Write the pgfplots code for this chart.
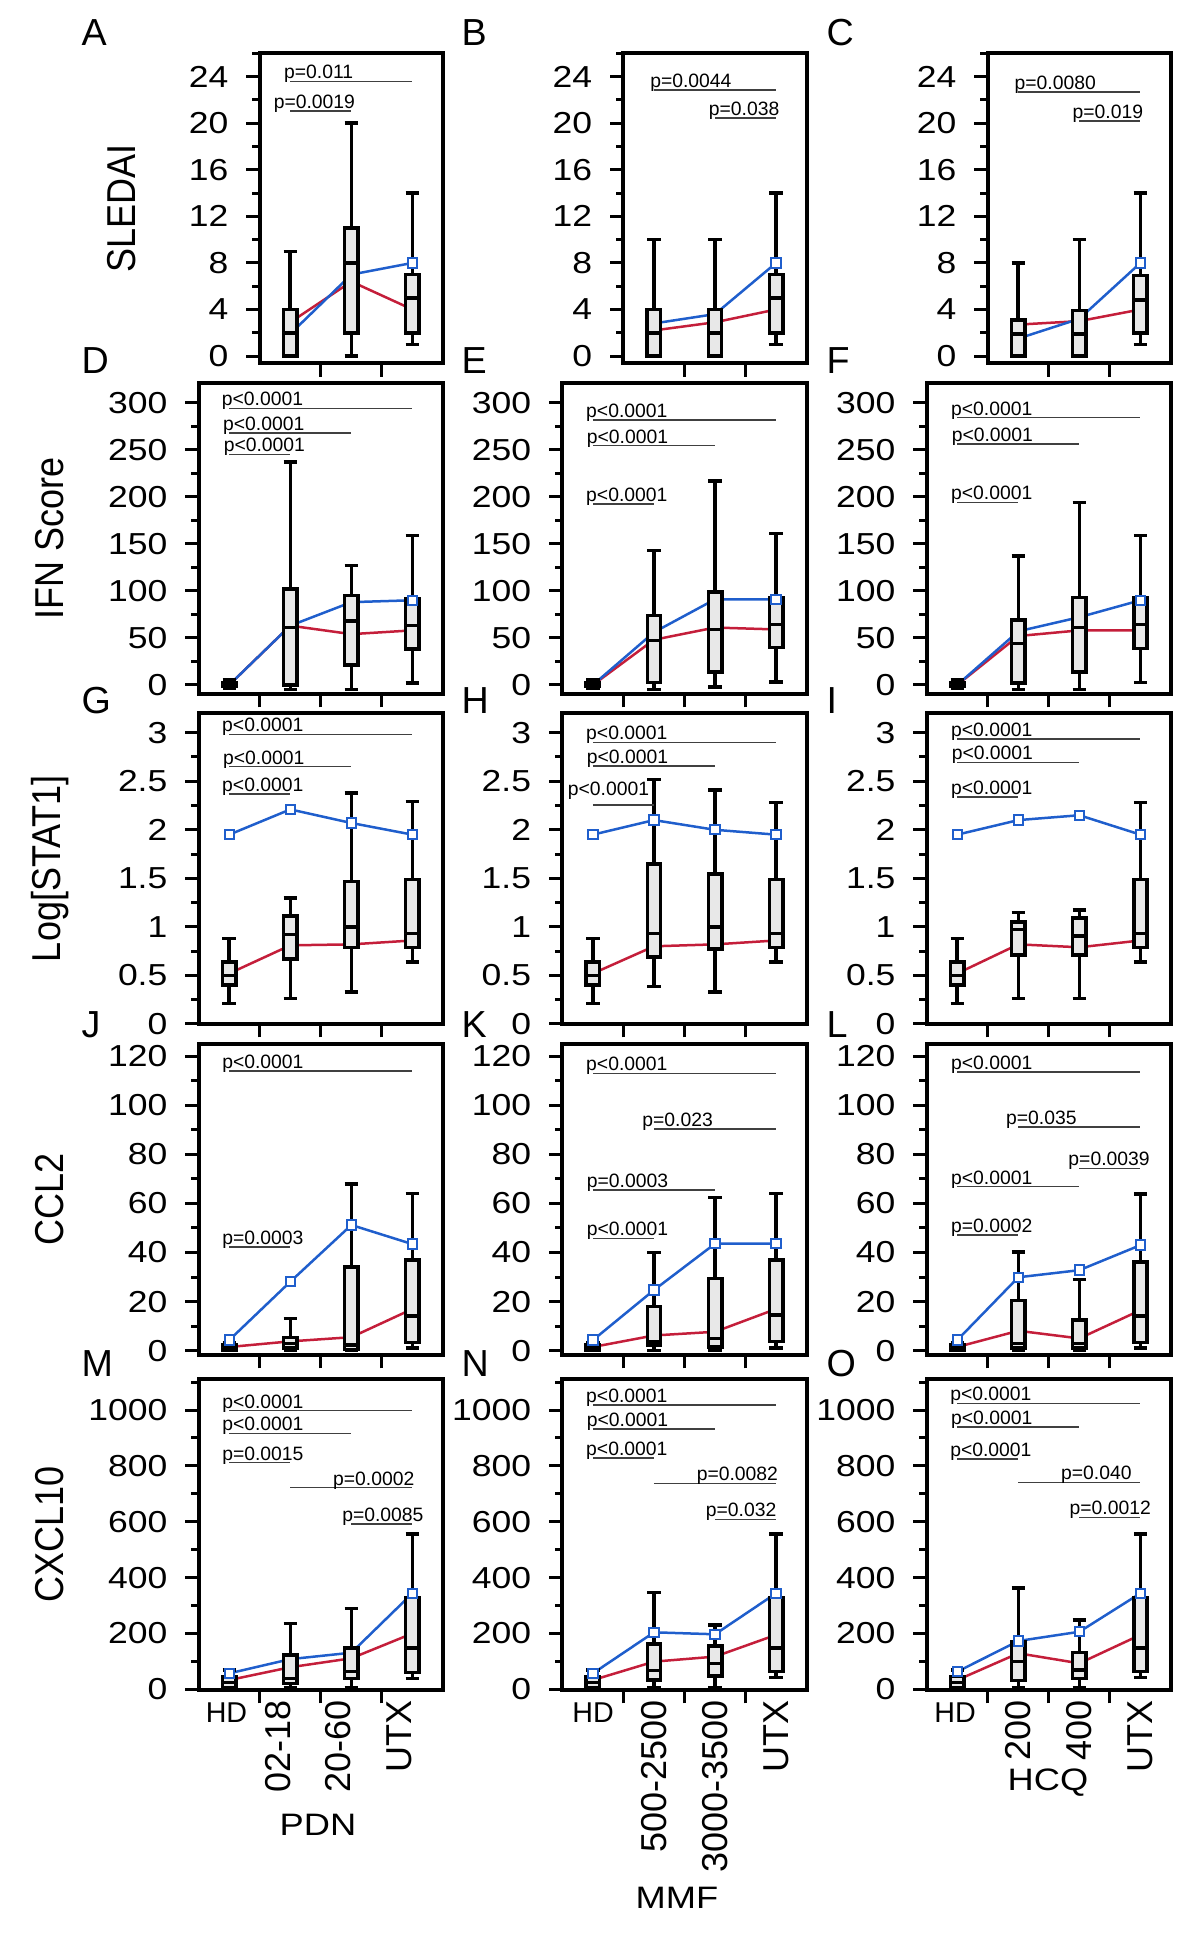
\documentclass[border=0pt]{standalone}
\usepackage{fontspec}
\setmainfont{Liberation Sans}
\usepackage{graphicx}
\usepackage{pgfplots}
\pgfplotsset{compat=1.18}
\usepgfplotslibrary{statistics}

\definecolor{cblue}{RGB}{31,94,204}
\definecolor{cred}{RGB}{196,30,58}
\definecolor{boxgray}{RGB}{232,232,232}

\newcommand{\tickf}{\fontsize{9.1}{10}\selectfont}
\newcommand{\labf}{\fontsize{10.8}{12}\selectfont}
\newcommand{\pf}{\fontsize{5.8}{7}\selectfont}
\newcommand{\letf}{\fontsize{11.3}{13}\selectfont}
\newcommand{\hdf}{\fontsize{8.6}{10}\selectfont}
\newcommand{\grpf}{\fontsize{9.3}{11}\selectfont}
\newcommand{\wide}[1]{\scalebox{1.17}[1]{#1}}

% one box: position, lower whisker, Q1, median, Q3, upper whisker
\newcommand{\bx}[6]{\addplot[boxst, boxplot prepared={draw position=#1,
  lower whisker=#2, lower quartile=#3, median=#4,
  upper quartile=#5, upper whisker=#6}] coordinates {};}
% p-value bar: from, to, height, text x, text
\newcommand{\pv}[5]{\draw[pline] (axis cs:#1,#3) -- (axis cs:#2,#3);
  \node[ptext] at (axis cs:#4,#3) {#5};}

\tikzset{
  pline/.style={line width=0.45pt, black!75},
  ptext/.style={anchor=base west, inner sep=0pt, yshift=0.8pt, font=\pf},
}

\pgfplotsset{
  panel/.style={
    scale only axis, height=93.2pt, anchor=north east, clip=false,
    axis line style={line width=1.2pt},
    tick pos=left, tick align=outside,
    major tick length=4pt, minor tick length=2.2pt,
    tick style={line width=0.9pt, black},
    xticklabels={},
    yticklabel={\wide{\pgfmathprintnumber{\tick}}},
    yticklabel style={font=\tickf, anchor=east, inner sep=0pt, xshift=-5.2pt},
    /pgf/number format/assume math mode=true,
    /pgf/number format/1000 sep={},
  },
  four/.style={panel, width=73.3pt, xmin=-0.5, xmax=3.5, xtick={0.5,1.5,2.5},
    every axis y label/.style={at={(axis description cs:-0.61,0.5)},
      rotate=90, anchor=center, font=\labf}},
  three/.style={panel, width=55pt, xmin=0.5, xmax=3.5, xtick={1.5,2.5},
    every axis y label/.style={at={(axis description cs:-0.753,0.5)},
      rotate=90, anchor=center, font=\labf}},
  rA/.style={ymin=-0.63, ymax=26.06, ytick={0,4,...,24}, minor ytick={2,6,...,26}},
  rB/.style={ymin=-9.6, ymax=320.6, ytick={0,50,...,300}, minor ytick={25,75,...,275}},
  rC/.style={ymin=0, ymax=3.2, ytick={0,0.5,1,1.5,2,2.5,3},
    minor ytick={0.25,0.75,1.25,1.75,2.25,2.75}},
  rD/.style={ymin=-1.75, ymax=124.8, ytick={0,20,...,120}, minor ytick={10,30,...,110}},
  rE/.style={ymin=-2.5, ymax=1110, ytick={0,200,...,1000}, minor ytick={100,300,...,1100}},
  boxst/.style={draw=black, fill=boxgray, line width=1.05pt, solid,
    boxplot/draw direction=y,
    boxplot/box extend=0.22, boxplot/whisker extend=0.22},
  redl/.style={cred, line width=0.75pt, no markers},
  bluel/.style={cblue, line width=0.75pt, mark=square*, mark size=1.4pt,
    mark options={fill=white, draw=cblue, line width=0.6pt}},
}

\begin{document}
\begin{tikzpicture}
\useasboundingbox (0,0) rectangle (360pt,-582.6pt);

% ---------------- row 1: SLEDAI
\begin{axis}[three, rA, at={(132.9pt,-15.81pt)}, ylabel={\scalebox{1}[1.12]{SLEDAI}}]
\addplot[redl] coordinates {(1,2.9) (2,6.4) (3,4)};
\addplot[bluel, mark indices={3}] coordinates {(1,1.9) (2,7.0) (3,8)};
\bx{1}{0}{0}{2}{4}{9}
\bx{2}{0}{2}{8}{11}{20}
\bx{3}{1}{2}{5}{7}{14}
\pv{1}{3}{23.6}{0.89}{p=0.011}
\pv{1}{2}{21.06}{0.72}{p=0.0019}
\end{axis}

\begin{axis}[three, rA, at={(242.0pt,-15.81pt)}]
\addplot[redl] coordinates {(1,2.2) (2,2.9) (3,4)};
\addplot[bluel, mark indices={3}] coordinates {(1,2.8) (2,3.6) (3,8)};
\bx{1}{0}{0}{2}{4}{10}
\bx{2}{0}{0}{2}{4}{10}
\bx{3}{1}{2}{5}{7}{14}
\pv{1}{3}{22.86}{0.93}{p=0.0044}
\pv{2}{3}{20.43}{1.89}{p=0.038}
\end{axis}

\begin{axis}[three, rA, at={(351.3pt,-15.81pt)}]
\addplot[redl] coordinates {(1,2.7) (2,3.0) (3,4)};
\addplot[bluel, mark indices={3}] coordinates {(1,1.5) (2,3.2) (3,8)};
\bx{1}{0}{0}{1.9}{3.1}{8}
\bx{2}{0}{0}{1.9}{3.9}{10}
\bx{3}{1}{2}{4.8}{6.9}{14}
\pv{1}{3}{22.7}{0.93}{p=0.0080}
\pv{2}{3}{20.2}{1.88}{p=0.019}
\end{axis}

% ---------------- row 2: IFN score
\begin{axis}[four, rB, at={(132.9pt,-114.99pt)}, ylabel={\scalebox{1}[1.12]{IFN Score}}]
\addplot[redl] coordinates {(0,0) (1,63) (2,54) (3,58)};
\addplot[bluel, mark indices={4}] coordinates {(0,0) (1,63) (2,88) (3,90)};
\bx{0}{-4}{-1}{0}{2}{5}
\bx{1}{-5}{0}{61}{102}{237}
\bx{2}{-5}{21}{68}{95}{127}
\bx{3}{2}{38}{63}{92}{159}
\pv{0}{3}{294}{-0.13}{p<0.0001}
\pv{0}{2}{267.8}{-0.11}{p<0.0001}
\pv{0}{1}{244.8}{-0.1}{p<0.0001}
\end{axis}

\begin{axis}[four, rB, at={(242.0pt,-114.99pt)}]
\addplot[redl] coordinates {(0,0) (1,48) (2,61) (3,59)};
\addplot[bluel, mark indices={4}] coordinates {(0,0) (1,56) (2,91) (3,91)};
\bx{0}{-4}{-1}{0}{2}{5}
\bx{1}{-5}{2.5}{47}{74}{143}
\bx{2}{-2}{14}{59}{99}{217}
\bx{3}{3}{40}{64}{93}{161}
\pv{0}{3}{281.6}{-0.12}{p<0.0001}
\pv{0}{2}{254.3}{-0.11}{p<0.0001}
\pv{0}{1}{192.3}{-0.12}{p<0.0001}
\end{axis}

\begin{axis}[four, rB, at={(351.3pt,-114.99pt)}]
\addplot[redl] coordinates {(0,0) (1,52) (2,58) (3,58)};
\addplot[bluel, mark indices={4}] coordinates {(0,0) (1,57) (2,72) (3,90)};
\bx{0}{-4}{-1}{0}{2}{5}
\bx{1}{-5}{2}{44}{69}{137}
\bx{2}{-5}{14}{61}{93}{194}
\bx{3}{2.5}{39}{64}{93}{159}
\pv{0}{3}{284}{-0.11}{p<0.0001}
\pv{0}{2}{256}{-0.1}{p<0.0001}
\pv{0}{1}{194}{-0.11}{p<0.0001}
\end{axis}

% ---------------- row 3: Log[STAT1]
\begin{axis}[four, rC, at={(132.9pt,-213.99pt)}, ylabel={\scalebox{1}[1.12]{Log[STAT1]}}]
\addplot[redl] coordinates {(0,0.52) (1,0.81) (2,0.82) (3,0.86)};
\addplot[bluel] coordinates {(0,1.95) (1,2.21) (2,2.07) (3,1.95)};
\bx{0}{0.21}{0.40}{0.50}{0.64}{0.88}
\bx{1}{0.26}{0.67}{0.92}{1.11}{1.30}
\bx{2}{0.33}{0.79}{1.00}{1.47}{2.38}
\bx{3}{0.64}{0.79}{0.93}{1.49}{2.29}
\pv{0}{3}{2.983}{-0.125}{p<0.0001}
\pv{0}{2}{2.65}{-0.11}{p<0.0001}
\pv{0}{1}{2.37}{-0.125}{p<0.0001}
\end{axis}

\begin{axis}[four, rC, at={(242.0pt,-213.99pt)}]
\addplot[redl] coordinates {(0,0.52) (1,0.80) (2,0.82) (3,0.86)};
\addplot[bluel] coordinates {(0,1.95) (1,2.10) (2,2.0) (3,1.95)};
\bx{0}{0.21}{0.40}{0.50}{0.64}{0.88}
\bx{1}{0.385}{0.69}{0.93}{1.65}{2.52}
\bx{2}{0.33}{0.77}{1.00}{1.545}{2.41}
\bx{3}{0.64}{0.79}{0.93}{1.49}{2.28}
\pv{0}{3}{2.90}{-0.12}{p<0.0001}
\pv{0}{2}{2.657}{-0.11}{p<0.0001}
\draw[pline] (axis cs:0,2.255) -- (axis cs:1,2.255);
\node[ptext] at (axis cs:-0.42,2.33) {p<0.0001};
\end{axis}

\begin{axis}[four, rC, at={(351.3pt,-213.99pt)}]
\addplot[redl] coordinates {(0,0.52) (1,0.82) (2,0.79) (3,0.86)};
\addplot[bluel] coordinates {(0,1.95) (1,2.10) (2,2.15) (3,1.95)};
\bx{0}{0.21}{0.40}{0.50}{0.64}{0.88}
\bx{1}{0.26}{0.71}{0.975}{1.05}{1.147}
\bx{2}{0.26}{0.71}{0.906}{1.09}{1.174}
\bx{3}{0.64}{0.79}{0.93}{1.49}{2.28}
\pv{0}{3}{2.935}{-0.11}{p<0.0001}
\pv{0}{2}{2.695}{-0.1}{p<0.0001}
\pv{0}{1}{2.34}{-0.11}{p<0.0001}
\end{axis}

% ---------------- row 4: CCL2
\begin{axis}[four, rD, at={(132.9pt,-313.29pt)}, ylabel={\scalebox{1}[1.12]{CCL2}}]
\addplot[redl] coordinates {(0,1.5) (1,3.8) (2,5.5) (3,17)};
\addplot[bluel] coordinates {(0,4.3) (1,28.1) (2,51.2) (3,43.4)};
\bx{0}{0}{0.3}{1.5}{2.5}{3.3}
\bx{1}{0.3}{1}{3}{5.4}{13.2}
\bx{2}{0}{0.5}{2.3}{34}{67.9}
\bx{3}{1}{3.4}{14.1}{36.9}{64}
\pv{0}{3}{114}{-0.125}{p<0.0001}
\pv{0}{1}{42.2}{-0.125}{p=0.0003}
\end{axis}

\begin{axis}[four, rD, at={(242.0pt,-313.29pt)}]
\addplot[redl] coordinates {(0,1.5) (1,6.2) (2,7.7) (3,17)};
\addplot[bluel] coordinates {(0,4.3) (1,24.7) (2,43.6) (3,43.6)};
\bx{0}{0}{0.3}{1.5}{2.5}{3.3}
\bx{1}{0}{2.3}{3.7}{17.9}{39.9}
\bx{2}{0}{1.6}{5}{29.5}{62.3}
\bx{3}{1}{3.7}{14.5}{36.9}{64}
\pv{0}{3}{113}{-0.12}{p<0.0001}
\pv{1}{3}{90.3}{0.8}{p=0.023}
\pv{0}{2}{65.4}{-0.11}{p=0.0003}
\pv{0}{1}{45.7}{-0.11}{p<0.0001}
\end{axis}

\begin{axis}[four, rD, at={(351.3pt,-313.29pt)}]
\addplot[redl] coordinates {(0,1.5) (1,8.1) (2,5) (3,16.5)};
\addplot[bluel] coordinates {(0,4.3) (1,29.9) (2,32.8) (3,43)};
\bx{0}{0}{0.3}{1.5}{2.5}{3.3}
\bx{1}{0}{1}{3}{20.4}{40.3}
\bx{2}{0}{1}{3}{12.5}{29}
\bx{3}{1}{3.4}{14.1}{36.2}{63.8}
\pv{0}{3}{113.6}{-0.11}{p<0.0001}
\pv{1}{3}{91.2}{0.79}{p=0.035}
\pv{2}{3}{74.2}{1.81}{p=0.0039}
\pv{0}{2}{66.8}{-0.11}{p<0.0001}
\pv{0}{1}{47.1}{-0.11}{p=0.0002}
\end{axis}

% ---------------- row 5: CXCL10
\begin{axis}[four, rE, at={(132.9pt,-413.79pt)}, ylabel={\scalebox{1}[1.12]{CXCL10}}]
\addplot[redl] coordinates {(0,33) (1,79) (2,111) (3,200)};
\addplot[bluel, mark indices={1,4}] coordinates {(0,57) (1,108) (2,131) (3,344)};
\bx{0}{2}{5}{25}{45}{69}
\bx{1}{4}{21}{39}{123}{236}
\bx{2}{4}{39}{63}{147}{290}
\bx{3}{39}{61}{147}{329}{556}
\pv{0}{3}{997.6}{-0.125}{p<0.0001}
\pv{0}{2}{916.5}{-0.125}{p<0.0001}
\pv{0}{1}{811.5}{-0.125}{p=0.0015}
\pv{1}{3}{722}{1.69}{p=0.0002}
\pv{2}{3}{592}{1.84}{p=0.0085}
\end{axis}

\begin{axis}[four, rE, at={(242.0pt,-413.79pt)}]
\addplot[redl] coordinates {(0,33) (1,99) (2,117) (3,195)};
\addplot[bluel] coordinates {(0,57) (1,204) (2,197) (3,344)};
\bx{0}{2}{5}{25}{45}{69}
\bx{1}{4}{33}{67}{162}{347}
\bx{2}{4}{48}{93}{155}{230}
\bx{3}{43}{63}{147}{329}{556}
\pv{0}{3}{1018}{-0.12}{p<0.0001}
\pv{0}{2}{932}{-0.11}{p<0.0001}
\pv{0}{1}{829}{-0.12}{p<0.0001}
\pv{1}{3}{737}{1.69}{p=0.0082}
\pv{2}{3}{608.6}{1.84}{p=0.032}
\end{axis}

\begin{axis}[four, rE, at={(351.3pt,-413.79pt)}]
\addplot[redl] coordinates {(0,33) (1,129) (2,93) (3,195)};
\addplot[bluel] coordinates {(0,63) (1,173) (2,206) (3,344)};
\bx{0}{2}{5}{25}{45}{69}
\bx{1}{4}{31}{99}{171}{362}
\bx{2}{4}{39}{69}{131}{248}
\bx{3}{43}{63}{147}{329}{556}
\pv{0}{3}{1024}{-0.125}{p<0.0001}
\pv{0}{2}{940}{-0.11}{p<0.0001}
\pv{0}{1}{825}{-0.125}{p<0.0001}
\pv{1}{3}{740}{1.69}{p=0.040}
\pv{2}{3}{614.6}{1.83}{p=0.0012}
\end{axis}

% ---------------- panel letters
\begin{scope}[every node/.style={anchor=west, inner sep=0pt, font=\letf}]
\node at (24.3pt,-9.9pt) {A};   \node at (138.3pt,-9.9pt) {B};   \node at (247.8pt,-9.9pt) {C};
\node at (24.3pt,-108.3pt) {D}; \node at (138.3pt,-108.3pt) {E}; \node at (247.8pt,-108.3pt) {F};
\node at (24.3pt,-210.3pt) {G}; \node at (138.3pt,-210.3pt) {H}; \node at (247.8pt,-210.3pt) {I};
\node at (24.3pt,-307.5pt) {J}; \node at (138.3pt,-307.5pt) {K}; \node at (247.8pt,-307.5pt) {L};
\node at (24.3pt,-409.2pt) {M}; \node at (138.3pt,-409.2pt) {N}; \node at (247.8pt,-409.2pt) {O};
\end{scope}

% ---------------- category labels under the bottom row
\begin{scope}[every node/.style={inner sep=0pt}]
\node[anchor=north, font=\hdf] at (67.95pt,-510.6pt) {HD};
\node[anchor=north, font=\hdf] at (177.9pt,-510.6pt) {HD};
\node[anchor=north, font=\hdf] at (286.5pt,-510.6pt) {HD};
\node[rotate=90, anchor=east, font=\labf] at (83.4pt,-510pt) {02-18};
\node[rotate=90, anchor=east, font=\labf] at (101.4pt,-510pt) {20-60};
\node[rotate=90, anchor=east, font=\labf] at (119.7pt,-510pt) {UTX};
\node[rotate=90, anchor=east, font=\labf] at (196.2pt,-510pt) {500-2500};
\node[rotate=90, anchor=east, font=\labf] at (214.5pt,-510pt) {3000-3500};
\node[rotate=90, anchor=east, font=\labf] at (232.8pt,-510pt) {UTX};
\node[rotate=90, anchor=east, font=\labf] at (305.4pt,-510pt) {200};
\node[rotate=90, anchor=east, font=\labf] at (323.7pt,-510pt) {400};
\node[rotate=90, anchor=east, font=\labf] at (342pt,-510pt) {UTX};
\node[font=\grpf] at (95.4pt,-547.5pt) {\wide{PDN}};
\node[font=\grpf] at (203.1pt,-569.4pt) {\wide{MMF}};
\node[font=\grpf] at (314.4pt,-534.9pt) {\wide{HCQ}};
\end{scope}
\end{tikzpicture}
\end{document}
